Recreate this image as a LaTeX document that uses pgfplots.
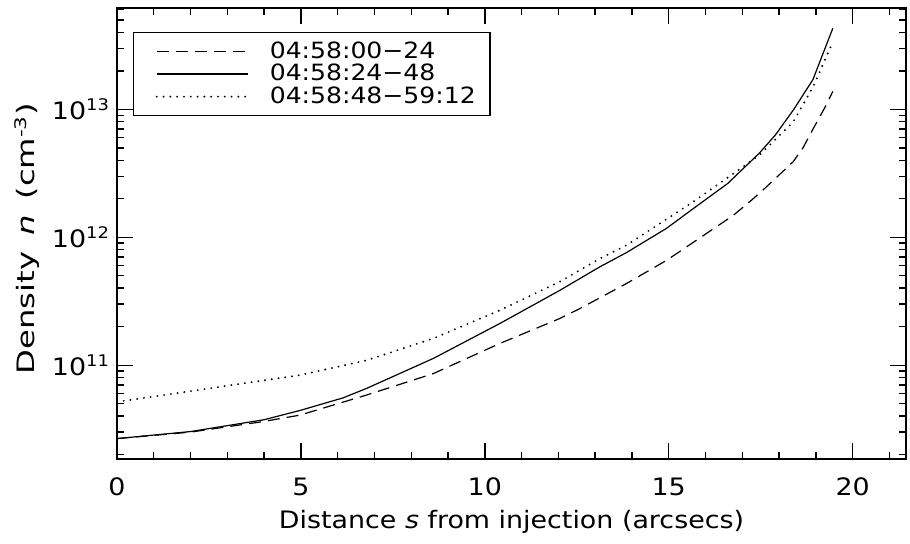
\documentclass[border=0pt]{standalone}
\usepackage{graphicx}
\usepackage{pgfplots}
\pgfplotsset{compat=1.18}
\usepackage{fontspec}
\setmainfont{DejaVu Sans}[FakeStretch=1.12]
\newcommand{\lblfont}{\fontsize{12}{14}\selectfont}
\newcommand{\legfont}{\fontsize{11.2}{13}\selectfont}
\begin{document}
\begin{tikzpicture}
\begin{axis}[
  scale only axis,
  width=394.5pt, height=225.5pt,
  ymode=log,
  xmin=0, xmax=21.45,
  ymin=1.85e10, ymax=6.2e13,
  xtick={0,5,10,15,20},
  minor xtick={1,2,3,4,6,7,8,9,11,12,13,14,16,17,18,19,21},
  ytick={1e11,1e12,1e13},
  yticklabels={10\textsuperscript{11},10\textsuperscript{12},10\textsuperscript{13}},
  minor ytick={2e10,3e10,4e10,5e10,6e10,7e10,8e10,9e10,2e11,3e11,4e11,5e11,6e11,7e11,8e11,9e11,2e12,3e12,4e12,5e12,6e12,7e12,8e12,9e12,2e13,3e13,4e13,5e13,6e13},
  tick align=inside,
  major tick length=8pt,
  minor tick length=3.5pt,
  every tick/.style={black, line width=0.7pt},
  axis line style={line width=0.8pt},
  tick label style={font=\lblfont},
  /pgf/number format/assume math mode=true,
  xticklabel style={yshift=-6pt},
  label style={font=\lblfont},
  xlabel={Distance \textit{s} from injection (arcsecs)},
  ylabel={\scalebox{1.2}[1]{Density\hspace{0.55em}\textit{n}\hspace{0.55em}(cm\textsuperscript{-3})}},
  xlabel style={at={(axis description cs:0.5,-0.14)}, anchor=center},
  ylabel style={at={(axis description cs:-0.114,0.489)}, anchor=center},
  legend style={at={(axis description cs:0.0203,0.947)}, anchor=north west,
    draw=black, line width=0.7pt, font=\legfont, inner xsep=5pt, inner ysep=2.5pt,
    row sep=-2.5pt, cells={anchor=west}},
  legend cell align=left,
  legend image code/.code={\path (0pt,0pt); \draw[#1] (6pt,0pt) -- (51.5pt,0pt);},
]
\addplot[black, line width=0.6pt, dash pattern=on 6pt off 3.5pt] coordinates {
(0,2.67e10) (2.0,3.0e10) (3.9,3.6e10) (4.97,4.07e10) (6.78,5.84e10) (8.6,8.6e10)
(10.41,1.48e11) (12.04,2.32e11) (12.58,2.77e11) (13.85,4.35e11) (14.94,6.6e11) (15.66,9.1e11)
(16.75,1.48e12) (17.25,1.95e12) (17.65,2.47e12) (18.38,3.89e12) (18.65,5.0e12) (18.92,7.0e12)
(19.28,1.08e13) (19.46,1.38e13)};
\addlegendentry{\hspace{8.5pt}04:58:00−24}
\addplot[black, line width=0.6pt] coordinates {
(0,2.67e10) (2.0,3.03e10) (4.0,3.75e10) (5.0,4.45e10) (6.15,5.56e10) (6.78,6.58e10)
(8.6,1.13e11) (10.41,2.12e11) (12.04,3.85e11) (13.12,5.86e11) (13.85,7.59e11) (14.94,1.175e12)
(15.66,1.67e12) (16.6,2.63e12) (17.47,4.57e12) (17.9,6.31e12) (18.4,1.0e13) (18.92,1.71e13) (19.46,4.3e13)};
\addlegendentry{\hspace{8.5pt}04:58:24−48}
\addplot[black, line width=1.05pt, line cap=round, dash pattern=on 0pt off 3.4pt] coordinates {
(0,5.17e10) (2.0,6.27e10) (3.42,7.2e10) (4.97,8.36e10) (6.78,1.09e11) (8.6,1.62e11)
(10.41,2.69e11) (12.04,4.5e11) (13.12,6.8e11) (13.85,8.66e11) (15.66,1.89e12) (16.56,2.87e12)
(17.47,4.4e12) (18.38,7.95e12) (18.92,1.49e13) (19.46,3.36e13)};
\addlegendentry{\hspace{8.5pt}04:58:48−59:12}
\coordinate (SW) at (rel axis cs:0,0);
\coordinate (NE) at (rel axis cs:1,1);
\end{axis}
\pgfresetboundingbox
\path[use as bounding box] ([shift={(-58.5pt,-42.5pt)}]SW) rectangle ([shift={(2pt,4pt)}]NE);
\end{tikzpicture}
\end{document}
